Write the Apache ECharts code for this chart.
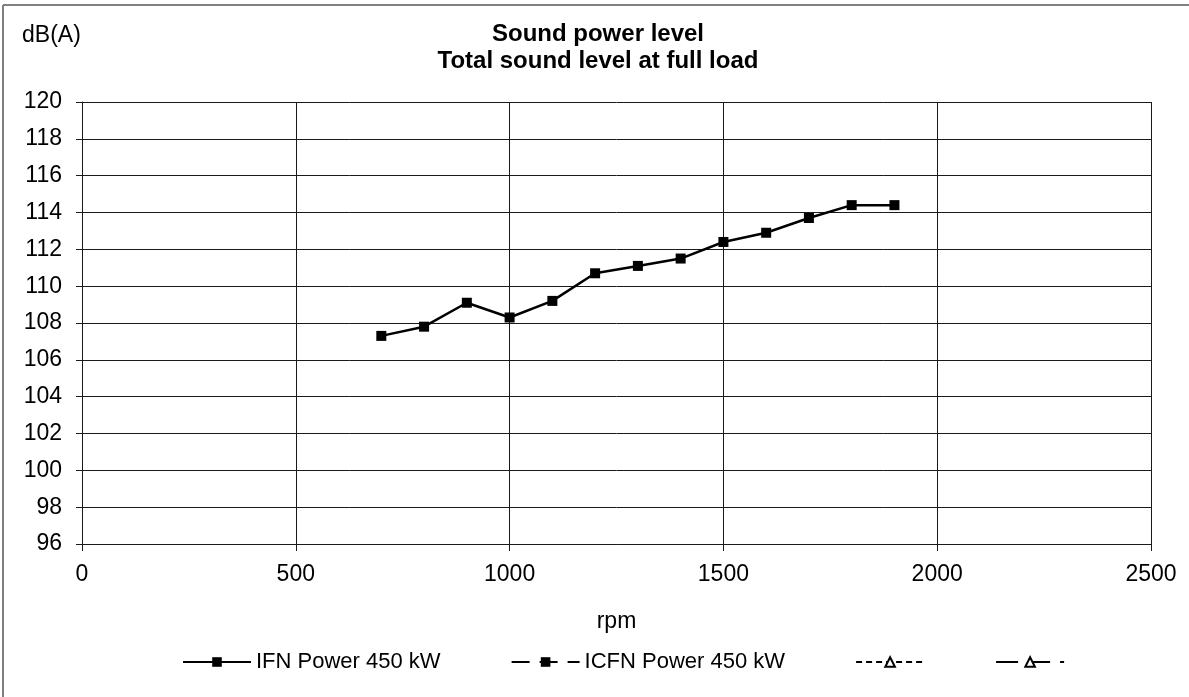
<!DOCTYPE html>
<html>
<head>
<meta charset="utf-8">
<script src="https://cdn.jsdelivr.net/npm/echarts@6/dist/echarts.min.js"></script>
<style>
html,body{margin:0;padding:0;background:#fff;}
#chart{width:1189px;height:697px;}
</style>
</head>
<body>
<div id="chart"></div>
<script>
const rpm = [700, 800, 900, 1000, 1100, 1200, 1300, 1400, 1500, 1600, 1700, 1800, 1900];
const ifnPower450 = [107.3, 107.8, 109.1, 108.3, 109.2, 110.7, 111.1, 111.5, 112.4, 112.9, 113.7, 114.4, 114.4];
const seriesNames = ['IFN Power 450 kW', 'ICFN Power 450 kW', 'series3', 'series4'];
const legendLabels = {'IFN Power 450 kW': 'IFN Power 450 kW', 'ICFN Power 450 kW': 'ICFN Power 450 kW', 'series3': '', 'series4': ''};
const titleLines = ['Sound power level', 'Total sound level at full load'];
const yAxisTitle = 'dB(A)';
const xAxisTitle = 'rpm';

const chart = echarts.init(document.getElementById('chart'), null, {renderer: 'canvas'});
const font = 'Liberation Sans, Arial, sans-serif';
const gridColor = '#1a1a1a';

chart.setOption({
  backgroundColor: '#fff',
  animation: false,
  textStyle: {fontFamily: font},
  title: {
    text: titleLines.join('\n'),
    left: 593, textAlign: 'center', top: 16,
    textStyle: {fontFamily: font, fontWeight: 'bold', fontSize: 24, color: '#000', lineHeight: 27}
  },
  graphic: [
    {type: 'line', shape: {x1: 3, y1: 5, x2: 1189, y2: 5}, style: {stroke: '#808080', lineWidth: 2}},
    {type: 'line', shape: {x1: 3, y1: 5, x2: 3, y2: 697}, style: {stroke: '#808080', lineWidth: 2}},
    {type: 'text', left: 22, top: 24, style: {text: yAxisTitle, font: '23px Liberation Sans, Arial, sans-serif', fill: '#000'}}
  ],
  grid: {left: 82, right: 38, top: 102, bottom: 153, containLabel: false},
  xAxis: {
    type: 'value', min: 0, max: 2500, interval: 500,
    name: xAxisTitle, nameLocation: 'middle', nameGap: 66,
    nameTextStyle: {fontFamily: font, fontSize: 23, color: '#000'},
    axisLine: {show: true, lineStyle: {color: gridColor, width: 1}},
    axisTick: {show: true, inside: false, length: 7, lineStyle: {color: gridColor}},
    axisLabel: {fontFamily: font, fontSize: 23, color: '#000', margin: 19, formatter: v => String(v)},
    splitLine: {show: true, lineStyle: {color: gridColor, width: 1}}
  },
  yAxis: {
    type: 'value', min: 96, max: 120, interval: 2,
    axisLine: {show: true, lineStyle: {color: gridColor, width: 1}},
    axisTick: {show: true, inside: false, length: 6, lineStyle: {color: gridColor}},
    axisLabel: {fontFamily: font, fontSize: 23, color: '#000', margin: 20},
    splitLine: {show: true, lineStyle: {color: gridColor, width: 1}}
  },
  legend: {
    top: 646, left: 177,
    itemGap: 70, itemWidth: 68, itemHeight: 12,
    textStyle: {fontFamily: font, fontSize: 22, color: '#000'},
    formatter: function (n) { return legendLabels[n]; },
    data: seriesNames
  },
  series: [
    {
      name: seriesNames[0], type: 'line',
      data: rpm.map((x, i) => [x, ifnPower450[i]]),
      symbol: 'rect', symbolSize: 10,
      itemStyle: {color: '#000'},
      lineStyle: {color: '#000', width: 2.5, type: 'solid'}
    },
    {
      name: seriesNames[1], type: 'line', data: [],
      symbol: 'rect', symbolSize: 10,
      itemStyle: {color: '#000'},
      lineStyle: {color: '#000', width: 2.5, type: [18, 10]}
    },
    {
      name: seriesNames[2], type: 'line', data: [],
      symbol: 'triangle', symbolSize: 7,
      itemStyle: {color: '#fff', borderColor: '#000', borderWidth: 1.5},
      lineStyle: {color: '#000', width: 2, type: [6, 4]}
    },
    {
      name: seriesNames[3], type: 'line', data: [],
      symbol: 'triangle', symbolSize: 7,
      itemStyle: {color: '#fff', borderColor: '#000', borderWidth: 1.5},
      lineStyle: {color: '#000', width: 2.5, type: [22, 10]}
    }
  ]
});
</script>
</body>
</html>
